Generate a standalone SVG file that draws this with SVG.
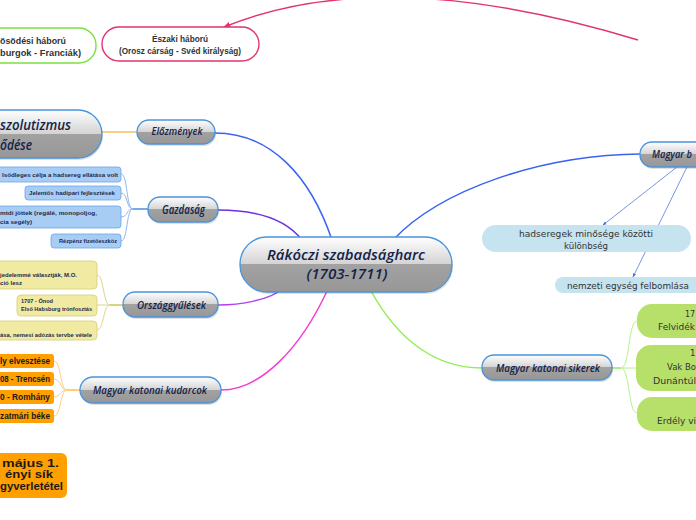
<svg xmlns="http://www.w3.org/2000/svg" width="696" height="520" viewBox="0 0 696 520">
<defs>
<linearGradient id="g" x1="0" y1="0" x2="0" y2="1">
<stop offset="0" stop-color="#ffffff"/>
<stop offset="0.49" stop-color="#d4d4d4"/>
<stop offset="0.5" stop-color="#a2a2a2"/>
<stop offset="1" stop-color="#979797"/>
</linearGradient>
<marker id="ar" viewBox="0 0 10 10" refX="9" refY="5" markerWidth="7" markerHeight="7" orient="auto" markerUnits="userSpaceOnUse">
<path d="M0,1 L10,5 L0,9 z" fill="#e0356e"/>
</marker>
<marker id="ab" viewBox="0 0 10 10" refX="9" refY="5" markerWidth="4" markerHeight="4" orient="auto" markerUnits="userSpaceOnUse">
<path d="M0,1 L10,5 L0,9 z" fill="#4a6ad8"/>
</marker>
</defs>
<style>
.mn{fill:url(#g);stroke:#4a94dc;stroke-width:1.3}
.sh{fill:#000;opacity:0.12}
.mt{font-family:"Open Sans","Liberation Sans",sans-serif;font-style:italic;font-weight:600;fill:#14224a}
.bx{font-family:"Liberation Sans",Arial,sans-serif;font-weight:bold;font-size:6px;fill:#1e2a4a}
.ob{font-family:"Liberation Sans",Arial,sans-serif;font-weight:bold;fill:#1a1a1a}
.pl{font-family:"DejaVu Sans",Verdana,sans-serif;font-size:8.6px;fill:#333}
.tp{font-family:"Liberation Sans",Arial,sans-serif;font-weight:bold;font-size:8.5px;fill:#333}
.c{fill:none;stroke-width:1.5}
</style>
<g id="connectors">
<path d="M638,40 Q383,-38 224,27" fill="none" stroke="#e0356e" stroke-width="1.4" marker-end="url(#ar)"/>
<path class="c" d="M332,240 C310,175 270,133 215,133" stroke="#3a64f0"/>
<path class="c" d="M393,240 C440,190 540,155 641,154" stroke="#3a64f0"/>
<path class="c" d="M302,240 C285,218 255,210 218,210" stroke="#6a30e0"/>
<path class="c" d="M282,289 C270,300 240,305 218,305" stroke="#b040f0"/>
<path class="c" d="M328,289 C300,350 260,390 221,390" stroke="#f040d8"/>
<path class="c" d="M370,289 C400,345 440,368 482,368" stroke="#90ee50"/>
<path class="c" d="M101,132 L137,132" stroke="#f8c060"/>
<path d="M677,167 L603,225" fill="none" stroke="#5a78d8" stroke-width="0.8" marker-end="url(#ab)"/>
<path d="M687,167 L633,277" fill="none" stroke="#5a78d8" stroke-width="0.8" marker-end="url(#ab)"/>
<path d="M148,209 L133,209" fill="none" stroke="#2a7ee0" stroke-width="1.3"/>
<g fill="none" stroke="#8fb8f0" stroke-width="1">
<path d="M133,209 C126,209 128,174 121,174"/>
<path d="M133,209 C126,209 128,193 121,193"/>
<path d="M133,209 C126,209 128,217 121,217"/>
<path d="M133,209 C126,209 128,241 121,241"/>
</g>
<path d="M123,305 L110,305" fill="none" stroke="#c8bc40" stroke-width="1.3"/>
<g fill="none" stroke="#ddd48c" stroke-width="1">
<path d="M110,305 C103,305 104,275 97,275"/>
<path d="M110,305 L97,305"/>
<path d="M110,305 C103,305 104,330 97,330"/>
</g>
<path d="M80,390 L67,390" fill="none" stroke="#ffb030" stroke-width="1.3"/>
<g fill="none" stroke="#ffcc80" stroke-width="1">
<path d="M67,390 C60,390 61,361 54,361"/>
<path d="M67,390 C60,390 61,379 54,379"/>
<path d="M67,390 C60,390 61,397 54,397"/>
<path d="M67,390 C60,390 61,416 54,416"/>
</g>
<path d="M612,368 L621,368" fill="none" stroke="#84e448" stroke-width="1.3"/>
<g fill="none" stroke="#b4f48a" stroke-width="1">
<path d="M621,368 C630,368 628,321 637,321"/>
<path d="M621,368 L637,368"/>
<path d="M621,368 C630,368 628,413 637,413"/>
</g>
</g>
<g id="center">
<rect class="sh" x="241" y="239" width="212" height="55" rx="27"/>
<rect class="mn" x="240" y="237" width="212" height="55" rx="27"/>
<text class="mt" x="346" y="260" font-size="15" text-anchor="middle" textLength="158" lengthAdjust="spacingAndGlyphs">Rákóczi szabadságharc</text>
<text class="mt" x="347" y="279" font-size="15" text-anchor="middle" textLength="81" lengthAdjust="spacingAndGlyphs">(1703-1711)</text>
</g>
<g id="elozmenyek">
<rect class="sh" x="138" y="122" width="78" height="24" rx="12"/>
<rect class="mn" x="137" y="120" width="78" height="24" rx="12"/>
<text class="mt" x="177" y="135" font-size="11" text-anchor="middle" textLength="51" lengthAdjust="spacingAndGlyphs">Előzmények</text>
</g>
<g id="abszolutizmus">
<rect class="sh" x="-39" y="112" width="142" height="48" rx="24"/>
<rect class="mn" x="-40" y="110" width="142" height="48" rx="24"/>
<text class="mt" x="0" y="130" font-size="14.5" textLength="71" lengthAdjust="spacingAndGlyphs">szolutizmus</text>
<text class="mt" x="0" y="150" font-size="14.5" textLength="32" lengthAdjust="spacingAndGlyphs">ődése</text>
</g>
<g id="gazdasag">
<rect class="sh" x="149" y="199" width="70" height="25" rx="12"/>
<rect class="mn" x="148" y="197" width="70" height="25" rx="12"/>
<text class="mt" x="183.5" y="213.5" font-size="12" text-anchor="middle" textLength="43" lengthAdjust="spacingAndGlyphs">Gazdaság</text>
</g>
<g id="gazdasag-children">
<g fill="#a8cdf5" stroke="#6aa4ea" stroke-width="0.8">
<rect x="-5" y="167" width="126" height="15" rx="3"/>
<rect x="25" y="186" width="96" height="14" rx="3"/>
<rect x="-5" y="206" width="126" height="22" rx="3"/>
<rect x="51" y="234" width="70" height="14" rx="3"/>
</g>
<text class="bx" x="2" y="177" textLength="116" lengthAdjust="spacingAndGlyphs">lsődleges célja a hadsereg ellátása volt</text>
<text class="bx" x="29" y="195" textLength="86" lengthAdjust="spacingAndGlyphs">Jelentős hadipari fejlesztések</text>
<text class="bx" x="0" y="215" textLength="97" lengthAdjust="spacingAndGlyphs">mtdi jöttek (regálé, monopoljog,</text>
<text class="bx" x="0" y="223.5" textLength="32" lengthAdjust="spacingAndGlyphs">cia segély)</text>
<text class="bx" x="59" y="243" textLength="58" lengthAdjust="spacingAndGlyphs">Rézpénz fizetőeszköz</text>
</g>
<g id="orszaggyulesek">
<rect class="sh" x="124" y="294" width="95" height="25" rx="12"/>
<rect class="mn" x="123" y="292" width="95" height="25" rx="12"/>
<text class="mt" x="171.5" y="308.5" font-size="11.5" text-anchor="middle" textLength="69" lengthAdjust="spacingAndGlyphs">Országgyűlések</text>
</g>
<g id="orszaggyulesek-children">
<g fill="#f1eaa2" stroke="#d9cd72" stroke-width="0.8">
<rect x="-5" y="261" width="102" height="28" rx="4"/>
<rect x="17" y="295" width="80" height="21" rx="4"/>
<rect x="-5" y="321" width="102" height="19" rx="4"/>
</g>
<text class="bx" x="0" y="277" textLength="77" lengthAdjust="spacingAndGlyphs">jedelemmé választják, M.O.</text>
<text class="bx" x="0" y="284.5" textLength="22" lengthAdjust="spacingAndGlyphs">ció lesz</text>
<text class="bx" x="21" y="303" textLength="32" lengthAdjust="spacingAndGlyphs">1707 - Ónod</text>
<text class="bx" x="21" y="310.5" textLength="71" lengthAdjust="spacingAndGlyphs">Első Habsburg trónfosztás</text>
<text class="bx" x="0" y="337" textLength="92" lengthAdjust="spacingAndGlyphs">ása, nemesi adózás tervbe vétele</text>
</g>
<g id="kudarcok">
<rect class="sh" x="81" y="379" width="141" height="26" rx="13"/>
<rect class="mn" x="80" y="377" width="141" height="26" rx="13"/>
<text class="mt" x="150" y="394" font-size="11.5" text-anchor="middle" textLength="114" lengthAdjust="spacingAndGlyphs">Magyar katonai kudarcok</text>
</g>
<g id="kudarcok-children">
<g fill="#ff9f00">
<rect x="-5" y="354" width="59" height="14" rx="3"/>
<rect x="-5" y="372" width="59" height="14" rx="3"/>
<rect x="-5" y="390" width="59" height="14" rx="3"/>
<rect x="-5" y="409" width="59" height="14" rx="3"/>
</g>
<text class="ob" x="0" y="364" font-size="8.5" textLength="50" lengthAdjust="spacingAndGlyphs">ly elvesztése</text>
<text class="ob" x="0" y="382" font-size="8.5" textLength="50" lengthAdjust="spacingAndGlyphs">08 - Trencsén</text>
<text class="ob" x="0" y="400" font-size="8.5" textLength="50" lengthAdjust="spacingAndGlyphs">0 - Romhány</text>
<text class="ob" x="0" y="419" font-size="8.5" textLength="50" lengthAdjust="spacingAndGlyphs">zatmári béke</text>
</g>
<g id="fegyverletetel">
<rect x="-5" y="453" width="72" height="45" rx="6" fill="#ff9f00"/>
<text class="ob" x="2" y="467" font-size="10" textLength="57" lengthAdjust="spacingAndGlyphs">május 1.</text>
<text class="ob" x="5" y="478" font-size="10" textLength="48" lengthAdjust="spacingAndGlyphs">ényi sík</text>
<text class="ob" x="0" y="489.5" font-size="10" textLength="63" lengthAdjust="spacingAndGlyphs">gyverletétel</text>
</g>
<g id="spanyol">
<rect x="-20" y="28" width="116" height="35" rx="17" fill="#fff" stroke="#7de040" stroke-width="1.4"/>
<text class="tp" x="0" y="44" font-size="9" textLength="66" lengthAdjust="spacingAndGlyphs">ösödési háború</text>
<text class="tp" x="0" y="56" font-size="9" textLength="81" lengthAdjust="spacingAndGlyphs">burgok - Franciák)</text>
</g>
<g id="eszaki">
<rect x="102" y="27" width="157" height="34" rx="17" fill="#fff" stroke="#e0356e" stroke-width="1.4"/>
<text class="tp" x="180" y="42" text-anchor="middle" textLength="56" lengthAdjust="spacingAndGlyphs">Északi háború</text>
<text class="tp" x="180" y="53.5" text-anchor="middle" textLength="122" lengthAdjust="spacingAndGlyphs">(Orosz cárság - Svéd királyság)</text>
</g>
<g id="bukas">
<rect class="sh" x="641" y="144" width="80" height="25" rx="12"/>
<rect class="mn" x="640" y="142" width="80" height="25" rx="12"/>
<text class="mt" x="652" y="158" font-size="11.5" textLength="40" lengthAdjust="spacingAndGlyphs">Magyar b</text>
</g>
<g id="hadseregek">
<rect x="482" y="225" width="209" height="27" rx="13.5" fill="#c6e4f0"/>
<text class="pl" x="586" y="237" text-anchor="middle" textLength="134" lengthAdjust="spacingAndGlyphs">hadseregek minősége közötti</text>
<text class="pl" x="586" y="248.5" text-anchor="middle" textLength="44" lengthAdjust="spacingAndGlyphs">különbség</text>
</g>
<g id="nemzeti">
<rect x="555" y="277" width="160" height="16" rx="8" fill="#c6e4f0"/>
<text class="pl" x="567" y="288.5" textLength="122" lengthAdjust="spacingAndGlyphs">nemzeti egység felbomlása</text>
</g>
<g id="sikerek">
<rect class="sh" x="483" y="357" width="130" height="25" rx="12"/>
<rect class="mn" x="482" y="355" width="130" height="25" rx="12"/>
<text class="mt" x="548" y="372" font-size="11.5" text-anchor="middle" textLength="104" lengthAdjust="spacingAndGlyphs">Magyar katonai sikerek</text>
</g>
<g id="sikerek-children">
<g fill="#b6e06a">
<rect x="637" y="304" width="90" height="34" rx="15"/>
<rect x="636" y="345" width="90" height="46" rx="15"/>
<rect x="637" y="397" width="90" height="34" rx="15"/>
</g>
<text class="pl" x="685" y="317" font-size="9.5" textLength="10" lengthAdjust="spacingAndGlyphs">17</text>
<text class="pl" x="658" y="329.5" font-size="9.5" textLength="37" lengthAdjust="spacingAndGlyphs">Felvidék</text>
<text class="pl" x="690" y="356" font-size="9.5">1</text>
<text class="pl" x="667" y="370" font-size="9.5" textLength="29" lengthAdjust="spacingAndGlyphs">Vak Bo</text>
<text class="pl" x="653" y="383.5" font-size="9.5" textLength="43" lengthAdjust="spacingAndGlyphs">Dunántúl</text>
<text class="pl" x="657" y="424" font-size="9.5" textLength="39" lengthAdjust="spacingAndGlyphs">Erdély vi</text>
</g>
</svg>
